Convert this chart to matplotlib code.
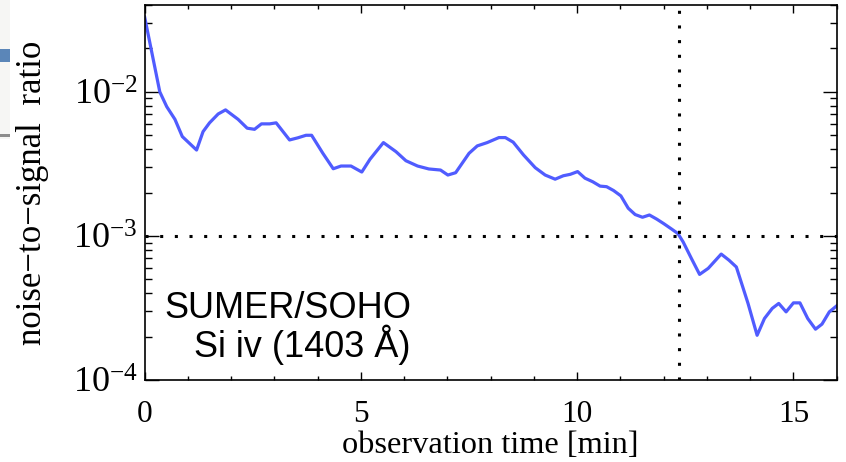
import matplotlib
matplotlib.use('Agg')
import matplotlib.pyplot as plt
from matplotlib.patches import Rectangle
from matplotlib.ticker import LogLocator, MultipleLocator, LogFormatterMathtext

plt.rcParams['font.family'] = 'Liberation Serif'
plt.rcParams['mathtext.fontset'] = 'stix'

# observation time [min] and noise-to-signal ratio
t_min = [0.0, 0.35, 0.51, 0.70, 0.87, 1.20, 1.35, 1.50, 1.70, 1.87,
         2.16, 2.37, 2.54, 2.70, 2.89, 3.04, 3.35, 3.54, 3.73, 3.86,
         4.12, 4.36, 4.54, 4.77, 5.02, 5.21, 5.52, 5.81, 6.04, 6.31,
         6.57, 6.84, 7.01, 7.19, 7.50, 7.69, 7.92, 8.19, 8.34, 8.52,
         8.76, 9.03, 9.26, 9.49, 9.68, 9.84, 10.01, 10.18, 10.36, 10.53,
         10.68, 10.84, 11.01, 11.18, 11.34, 11.51, 11.67, 11.84, 12.00, 12.18,
         12.33, 12.45, 12.64, 12.83, 13.03, 13.33, 13.51, 13.68, 13.95, 14.16,
         14.33, 14.51, 14.66, 14.83, 15.00, 15.15, 15.33, 15.51, 15.66, 15.83,
         16.0]
nsr = [0.0330, 0.0100, 0.0079, 0.00645, 0.0049, 0.00395, 0.0053, 0.0061, 0.00703, 0.0075,
       0.00645, 0.0056, 0.0055, 0.0060, 0.0060, 0.0061, 0.00464, 0.0048, 0.0050, 0.0050,
       0.00375, 0.00293, 0.00306, 0.00306, 0.00278, 0.00341, 0.00445, 0.00385, 0.00333, 0.00306,
       0.00292, 0.00287, 0.00265, 0.00275, 0.00375, 0.00422, 0.00445, 0.00482, 0.00482, 0.00448,
       0.00365, 0.00298, 0.00265, 0.00248, 0.00262, 0.00268, 0.00280, 0.00252, 0.00238, 0.00222,
       0.00220, 0.00207, 0.00190, 0.00156, 0.00141, 0.00135, 0.00140, 0.00131, 0.00122, 0.00112,
       0.00104, 0.00091, 0.00070, 0.000542, 0.000597, 0.00075, 0.00068, 0.00061, 0.000341, 0.000205,
       0.000268, 0.000315, 0.000341, 0.000298, 0.000344, 0.000344, 0.000268, 0.000226, 0.000245, 0.000298,
       0.000328]

t_cross = 12.35
nsr_cross = 1e-3

fig = plt.figure(figsize=(8.46, 4.62), dpi=100)
ax = fig.add_axes([0.171, 0.177, 0.818, 0.812])

ax.plot(t_min, nsr, color='#505cff', lw=2.3)
ax.axhline(nsr_cross, color='black', ls=(0, (1, 3.8)), lw=2.2)
ax.axvline(t_cross, color='black', ls=(0, (1, 3.8)), lw=2.2)

ax.set_yscale('log')
ax.set_xlim(0, 16)
ax.set_ylim(1e-4, 0.04)

ax.xaxis.set_major_locator(MultipleLocator(5))
ax.xaxis.set_minor_locator(MultipleLocator(1))
ax.yaxis.set_major_locator(LogLocator(base=10, numticks=10))
ax.yaxis.set_minor_locator(LogLocator(base=10, subs=range(2, 10), numticks=20))
ax.yaxis.set_major_formatter(LogFormatterMathtext())

ax.tick_params(which='both', direction='in', top=True, right=True, width=1.0)
ax.tick_params(axis='x', which='major', length=5.5, pad=14, labelsize=22.5)
ax.tick_params(axis='x', which='minor', length=2.8)
ax.tick_params(axis='y', which='major', length=10, pad=5, labelsize=26)
ax.tick_params(axis='y', which='minor', length=5)
for s in ax.spines.values():
    s.set_linewidth(1.2)

ax.set_xlabel('observation time [min]', fontsize=23.3)
ax.xaxis.set_label_coords(0.5, -0.136)
ax.set_ylabel('noise\u2212to\u2212signal  ratio', fontsize=25)
ax.yaxis.set_label_coords(-0.138, 0.5)

ax.text(0.028, 0.166, 'SUMER/SOHO', transform=ax.transAxes, fontsize=26,
        family='Liberation Sans', ha='left', va='baseline')
ax.text(0.072, 0.061, 'Si iv (1403 \u00c5)', transform=ax.transAxes, fontsize=26,
        family='Liberation Sans', ha='left', va='baseline')

# leftover strip from a neighbouring panel at the left edge
fig.patches.append(Rectangle((0, 0.70), 0.012, 0.30, transform=fig.transFigure,
                             facecolor='#f6f6f4', edgecolor='none'))
fig.patches.append(Rectangle((0, 0.865), 0.012, 0.03, transform=fig.transFigure,
                             facecolor='#5b86b8', edgecolor='none'))
fig.patches.append(Rectangle((0, 0.703), 0.012, 0.008, transform=fig.transFigure,
                             facecolor='#8c8c8c', edgecolor='none'))

fig.savefig('out.png', dpi=100)
